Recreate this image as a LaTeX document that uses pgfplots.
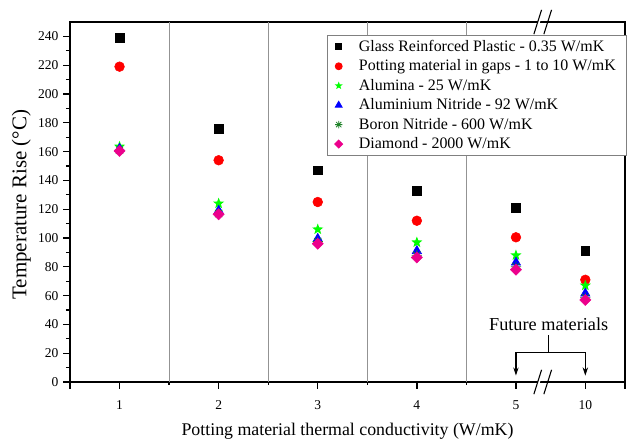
\documentclass[border=0pt]{standalone}
\usepackage{fontspec}
\setmainfont{Liberation Serif}
\usepackage{pgfplots}
\pgfplotsset{compat=1.18}
\usetikzlibrary{arrows.meta}

% filled five-pointed star
\pgfdeclareplotmark{fstar}{%
  \pgfpathmoveto{\pgfpointpolar{90}{\pgfplotmarksize}}%
  \pgfpathlineto{\pgfpointpolar{126}{0.42\pgfplotmarksize}}%
  \pgfpathlineto{\pgfpointpolar{162}{\pgfplotmarksize}}%
  \pgfpathlineto{\pgfpointpolar{198}{0.42\pgfplotmarksize}}%
  \pgfpathlineto{\pgfpointpolar{234}{\pgfplotmarksize}}%
  \pgfpathlineto{\pgfpointpolar{270}{0.42\pgfplotmarksize}}%
  \pgfpathlineto{\pgfpointpolar{306}{\pgfplotmarksize}}%
  \pgfpathlineto{\pgfpointpolar{342}{0.42\pgfplotmarksize}}%
  \pgfpathlineto{\pgfpointpolar{18}{\pgfplotmarksize}}%
  \pgfpathlineto{\pgfpointpolar{54}{0.42\pgfplotmarksize}}%
  \pgfpathclose\pgfusepathqfill}
% eight-armed asterisk
\pgfdeclareplotmark{aster8}{%
  \pgfpathmoveto{\pgfpointpolar{0}{\pgfplotmarksize}}\pgfpathlineto{\pgfpointpolar{180}{\pgfplotmarksize}}%
  \pgfpathmoveto{\pgfpointpolar{45}{\pgfplotmarksize}}\pgfpathlineto{\pgfpointpolar{225}{\pgfplotmarksize}}%
  \pgfpathmoveto{\pgfpointpolar{90}{\pgfplotmarksize}}\pgfpathlineto{\pgfpointpolar{270}{\pgfplotmarksize}}%
  \pgfpathmoveto{\pgfpointpolar{135}{\pgfplotmarksize}}\pgfpathlineto{\pgfpointpolar{315}{\pgfplotmarksize}}%
  \pgfusepathqstroke}

\definecolor{bngreen}{RGB}{30,130,40}

\begin{document}
\begin{tikzpicture}
\begin{axis}[
  scale only axis,
  width=410.7pt, height=266.4pt,
  xmin=0.5, xmax=6.1, ymin=0, ymax=250,
  xtick={0.5,1,2,3,4,5,5.7,6.1},
  xticklabels={,1,2,3,4,5,10,},
  extra x ticks={1.5,2.5,3.5,4.5},
  extra x tick labels={},
  extra x tick style={major tick length=2pt, xmajorgrids=true,
    major grid style={gray!85, line width=0.8pt}},
  ytick={0,20,...,240},
  minor ytick={10,30,...,230},
  tick pos=left, tick align=outside,
  major tick length=5pt, minor tick length=3pt,
  every tick/.style={black, line width=1pt},
  axis line style={line width=1.1pt},
  /pgf/number format/assume math mode=true,
  tick label style={font=\fontsize{10}{12}\selectfont},
  xticklabel shift=5pt,
  xlabel={Potting material thermal conductivity (W/mK)},
  ylabel={Temperature Rise (°C)},
  xlabel style={font=\fontsize{13.2}{15}\selectfont, at={(rel axis cs:0.5,0)}, anchor=base, yshift=-39.7pt},
  ylabel style={font=\fontsize{15.5}{17}\selectfont, at={(rel axis cs:0,0.5)}, anchor=center, xshift=-2pt, yshift=36pt},
  legend style={at={(rel axis cs:1,1)}, anchor=north east, xshift=1pt, yshift=-9.6pt,
    draw=gray, line width=0.6pt, font=\fontsize{11.8}{13}\selectfont,
    row sep=0.7pt, inner xsep=5.5pt, inner ysep=1.5pt,
    /tikz/every odd column/.append style={column sep=10pt}},
  legend cell align=left,
  legend image post style={every mark/.append style={scale=0.72}},
  clip=false,
]
\addplot[only marks, mark=square*, mark size=3.2pt, black]
  coordinates {(1,239) (2,176) (3,147) (4,133) (5,121) (5.7,91)};
\addlegendentry{Glass Reinforced Plastic - 0.35 W/mK}
\addplot[only marks, mark=*, mark size=3.6pt, red]
  coordinates {(1,219) (2,154) (3,125) (4,112) (5,100.5) (5.7,71)};
\addlegendentry{Potting material in gaps - 1 to 10 W/mK}
\addplot[only marks, mark=fstar, mark size=4.3pt, green]
  coordinates {(1,163.5) (2,124) (3,106) (4,97) (5,88) (5.7,67)};
\addlegendentry{Alumina - 25 W/mK}
\addplot[only marks, mark=triangle*, mark size=4pt, blue]
  coordinates {(1,162) (2,119) (3,99.5) (4,91) (5,83) (5.7,61.5)};
\addlegendentry{Aluminium Nitride - 92 W/mK}
\addplot[only marks, mark=aster8, mark size=3.8pt, bngreen, mark options={line width=0.6pt}]
  coordinates {(1,161) (2,117) (3,97.5) (4,88) (5,80) (5.7,58.5)};
\addlegendentry{Boron Nitride - 600 W/mK}
\addplot[only marks, mark=square*, mark size=2.9pt, magenta, mark options={rotate=45}]
  coordinates {(1,160.5) (2,116.5) (3,96) (4,86.5) (5,78) (5.7,57)};
\addlegendentry{Diamond - 2000 W/mK}

% annotation
\node[font=\fontsize{13.5}{15}\selectfont] at (axis cs:5.33,40) {Future materials};
\draw[line width=0.8pt] (axis cs:5.33,32.5) -- (axis cs:5.33,20.3);
\draw[line width=0.8pt, {Stealth[length=6pt,width=4pt]}-{Stealth[length=6pt,width=4pt]}]
  (axis cs:5,4.5) -- (axis cs:5,20.3) -- (axis cs:5.7,20.3) -- (axis cs:5.7,4.5);

% axis break marks, bottom
\fill[white] ([shift={(-6.55pt,-9pt)}]axis cs:5.27,0) -- ++(5.7pt,18pt) -- ++(1.7pt,0pt) -- ++(-5.7pt,-18pt) -- cycle;
\draw[line width=0.8pt] ([shift={(-6.55pt,-9pt)}]axis cs:5.27,0) -- ++(5.7pt,18pt);
\draw[line width=0.8pt] ([shift={(0.85pt,-9pt)}]axis cs:5.27,0) -- ++(5.7pt,18pt);
% axis break marks, top
\fill[white] ([shift={(-6.55pt,-9pt)}]axis cs:5.27,250) -- ++(5.7pt,18pt) -- ++(1.7pt,0pt) -- ++(-5.7pt,-18pt) -- cycle;
\draw[line width=0.8pt] ([shift={(-6.55pt,-9pt)}]axis cs:5.27,250) -- ++(5.7pt,18pt);
\draw[line width=0.8pt] ([shift={(0.85pt,-9pt)}]axis cs:5.27,250) -- ++(5.7pt,18pt);
\end{axis}
\path ([xshift=-51.8pt,yshift=-45.1pt]current axis.south west) rectangle ([xshift=5.2pt,yshift=16.3pt]current axis.north east);
\end{tikzpicture}
\end{document}
